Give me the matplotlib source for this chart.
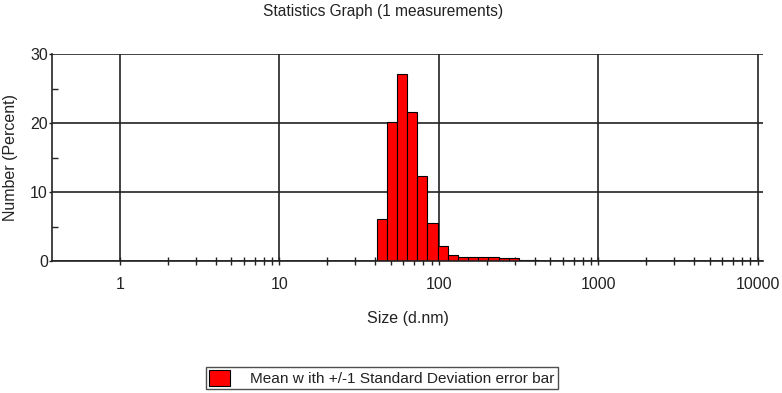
# Statistics graph for a DLS size distribution (number %)
import numpy as np
import matplotlib.pyplot as plt
from matplotlib.patches import Patch
from matplotlib.ticker import NullFormatter, FixedLocator

plt.rcParams['font.family'] = ['Liberation Sans', 'DejaVu Sans']

# == Data ===================================================
# size classes (d.nm) and number percent
sizes = [43.82, 50.75, 58.77, 68.06, 78.82, 91.28, 105.7, 122.4,
         141.8, 164.2, 190.1, 220.2, 255.0, 295.3, 342.0, 396.1]
number_pct = [6.2, 20.2, 27.2, 21.6, 12.3, 5.5, 2.2, 0.9,
              0.65, 0.65, 0.65, 0.6, 0.45, 0.45, 0.2, 0.15]
x_ticks = [1, 10, 100, 1000, 10000]
x_ticklabels = ['1', '10', '100', '1000', '10000']
y_ticks = [0, 10, 20, 30]
title = 'Statistics Graph (1 measurements)'
legend_label = 'Mean w ith +/-1 Standard Deviation error bar'
# ===========================================================

# bin edges: classes are evenly spaced in log10
sizes = np.array(sizes)
step = np.log10(sizes[1] / sizes[0])
left = sizes / 10 ** (step / 2)
width = left * (10 ** step - 1)

fig = plt.figure(figsize=(7.82, 3.93), dpi=100)
ax = fig.add_axes([0.0665, 0.3351, 0.9092, 0.5267])

ax.set_xscale('log')
ax.set_xlim(0.3744, 10811)
ax.set_ylim(0, 30)

ax.bar(left, number_pct, width=width, align='edge', color='#ff0000',
       edgecolor='black', linewidth=0.8, zorder=3)

# grid only at decades and at 10, 20, 30
ax.xaxis.set_major_locator(FixedLocator(x_ticks))
ax.set_xticklabels(x_ticklabels)
# minor ticks 2..9 in each decade from 1 up (none below 1)
minor = [m * d for d in x_ticks[:-1] for m in range(2, 10)]
ax.xaxis.set_minor_locator(FixedLocator(minor))
ax.xaxis.set_minor_formatter(NullFormatter())
ax.set_yticks(y_ticks)
ax.yaxis.set_minor_locator(FixedLocator([5, 15, 25]))
ax.grid(True, which='major', color='#222222', linewidth=1.2, zorder=1)

for s in ['top', 'right']:
    ax.spines[s].set_visible(False)
for s in ['left', 'bottom']:
    ax.spines[s].set_color('#222222')
    ax.spines[s].set_linewidth(1.2)
    ax.spines[s].set_zorder(4)

ax.tick_params(axis='x', which='both', direction='inout', length=6,
               width=1, color='#222222', labelsize=11.5, pad=8,
               labelcolor='#222222')
ax.tick_params(axis='y', which='major', direction='out', length=2,
               width=1, color='#222222', labelsize=11.5, pad=1,
               labelcolor='#222222')
ax.tick_params(axis='y', which='minor', direction='in', length=4,
               width=1, color='#222222')

ax.set_xlabel('Size (d.nm)', fontsize=11.5, color='#222222', labelpad=14)
ax.set_ylabel('Number (Percent)', fontsize=11.5, color='#222222')
ax.yaxis.set_label_coords(-0.048, 0.5)
fig.text(0.49, 0.972, title, ha='center', va='center', fontsize=11.2,
         color='#222222')

handle = Patch(facecolor='#ff0000', edgecolor='black', linewidth=0.8)
leg = fig.legend([handle], [legend_label], loc='center',
                 bbox_to_anchor=(0.4885, 0.038), fontsize=11.05,
                 frameon=True, fancybox=False, handlelength=1.35,
                 handleheight=1.2, handletextpad=1.3, borderpad=0.22,
                 borderaxespad=0)
leg.get_frame().set_edgecolor('#222222')
leg.get_frame().set_linewidth(1.0)
for t in leg.get_texts():
    t.set_color('#222222')

fig.savefig('out.png', dpi=100)
